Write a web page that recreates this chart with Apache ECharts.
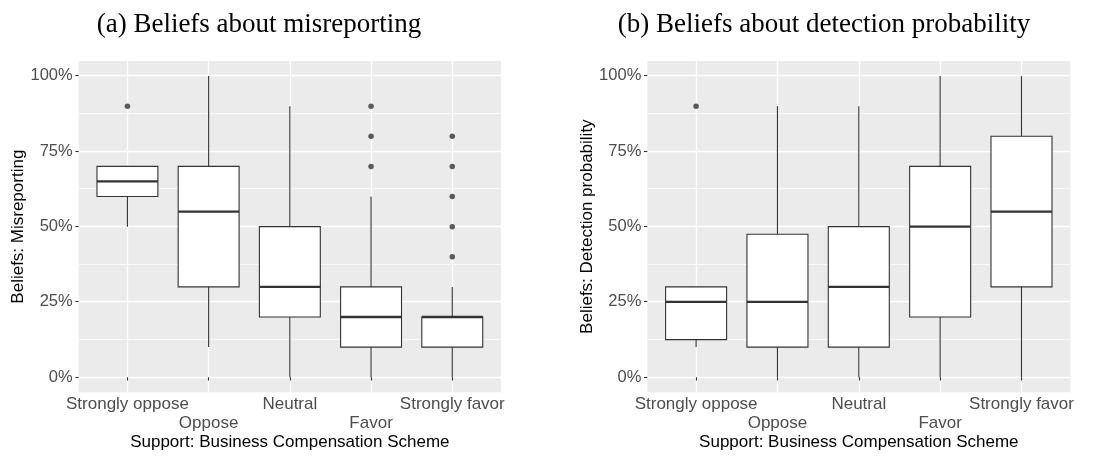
<!DOCTYPE html>
<html><head><meta charset="utf-8">
<script src="https://cdn.jsdelivr.net/npm/echarts@6/dist/echarts.min.js"></script>
<style>html,body{margin:0;padding:0;background:#fff}#c{width:1116px;height:456px}</style>
</head><body><div id="c"></div>
<script>
// ---- data ----
const categories = ['Strongly oppose', 'Oppose', 'Neutral', 'Favor', 'Strongly favor'];
const yTicks = [0, 0.25, 0.5, 0.75, 1];

// (a) Beliefs about misreporting
const misLow  = [0.50, 0.10, 0.00, 0.00, 0.00];
const misQ1   = [0.60, 0.30, 0.20, 0.10, 0.10];
const misMed  = [0.65, 0.55, 0.30, 0.20, 0.20];
const misQ3   = [0.70, 0.70, 0.50, 0.30, 0.20];
const misHigh = [0.70, 1.00, 0.90, 0.60, 0.30];
const misOutCat = [0, 3, 3, 3, 4, 4, 4, 4, 4];
const misOutVal = [0.90, 0.70, 0.80, 0.90, 0.40, 0.50, 0.60, 0.70, 0.80];

// (b) Beliefs about detection probability
const detLow  = [0.10, 0.00, 0.00, 0.00, 0.00];
const detQ1   = [0.125, 0.10, 0.10, 0.20, 0.30];
const detMed  = [0.25, 0.25, 0.30, 0.50, 0.55];
const detQ3   = [0.30, 0.475, 0.50, 0.70, 0.80];
const detHigh = [0.30, 0.90, 0.90, 1.00, 1.00];
const detOutCat = [0];
const detOutVal = [0.90];

const titles = ['(a) Beliefs about misreporting', '(b) Beliefs about detection probability'];
const yTitles = ['Beliefs: Misreporting', 'Beliefs: Detection probability'];
const xTitle = 'Support: Business Compensation Scheme';

// ---- layout (pixels) ----
const panels = [
  {L: 78.7, W: 422.3, titleX: 259, yTitleX: 18},
  {L: 647.3, W: 423.0, titleX: 824, yTitleX: 587.5}
];
const PT = 61, PB = 392.3;       // panel top/bottom
const Y0 = 377, Y1 = 75.7;       // pixel rows of 0% and 100%

const SANS = 'Liberation Sans';
const SERIF = 'Liberation Serif';

function boxData(lo, q1, md, q3, hi) {
  return categories.map((c, i) => [i, lo[i], q1[i], md[i], q3[i], hi[i]]);
}

function renderBox(params, api) {
  const c = api.value(0);
  const lo = api.coord([c, api.value(1)]);
  const q1 = api.coord([c, api.value(2)]);
  const md = api.coord([c, api.value(3)]);
  const q3 = api.coord([c, api.value(4)]);
  const hi = api.coord([c, api.value(5)]);
  const bw = api.size([1, 0])[0] * 0.75;
  const x = lo[0];
  const ls = {stroke: '#333333', lineWidth: 1.1};
  return {type: 'group', children: [
    {type: 'line', shape: {x1: x, y1: hi[1], x2: x, y2: q3[1]}, style: ls},
    {type: 'line', shape: {x1: x, y1: q1[1], x2: x, y2: lo[1]}, style: ls},
    {type: 'rect', shape: {x: x - bw / 2, y: q3[1], width: bw, height: q1[1] - q3[1]},
      style: {fill: '#ffffff', stroke: '#333333', lineWidth: 1.1}},
    {type: 'line', shape: {x1: x - bw / 2, y1: md[1], x2: x + bw / 2, y2: md[1]},
      style: {stroke: '#333333', lineWidth: 2.3}}
  ]};
}

const grid = [], xAxis = [], yAxis = [], series = [], graphic = [];
const stats = [
  {box: boxData(misLow, misQ1, misMed, misQ3, misHigh), oc: misOutCat, ov: misOutVal},
  {box: boxData(detLow, detQ1, detMed, detQ3, detHigh), oc: detOutCat, ov: detOutVal}
];

panels.forEach((p, k) => {
  const unit = p.W / 5.2;
  const iL = p.L + unit * 0.1, iW = unit * 5;
  const gA = grid.length;
  // grid A: horizontal grid + y labels
  grid.push({left: p.L, top: Y1, width: p.W, height: Y0 - Y1, containLabel: false});
  xAxis.push({gridIndex: gA, type: 'value', min: 0, max: 1, show: false});
  yAxis.push({
    gridIndex: gA, type: 'value', min: 0, max: 1, interval: 0.25,
    axisLine: {show: false},
    axisTick: {show: true, length: 3.3, lineStyle: {color: '#333333', width: 1.1}},
    axisLabel: {
      margin: 6, color: '#4D4D4D', fontFamily: SANS, fontSize: 16.5,
      formatter: v => (yTicks.indexOf(v) >= 0 ? Math.round(v * 100) + '%' : '')
    },
    splitLine: {show: true, lineStyle: {color: '#ffffff', width: 1.3}},
    minorTick: {show: false, splitNumber: 2},
    minorSplitLine: {show: true, lineStyle: {color: '#ffffff', width: 0.7}}
  });
  // grid B: categories + boxes
  const gB = grid.length;
  grid.push({left: iL, top: PT, width: iW, height: PB - PT, containLabel: false});
  xAxis.push({
    gridIndex: gB, type: 'category', data: categories, boundaryGap: true,
    axisLine: {show: false},
    axisTick: {show: true, alignWithLabel: true, length: 3.3, lineStyle: {color: '#333333', width: 1.1}},
    splitLine: {show: true, alignWithLabel: true, lineStyle: {color: '#ffffff', width: 1.3}},
    axisLabel: {
      interval: 0, margin: 2.5, color: '#4D4D4D', fontFamily: SANS, fontSize: 17, lineHeight: 19,
      formatter: (v, i) => (i % 2 === 1 ? '\n' + v : v)
    }
  });
  yAxis.push({gridIndex: gB, type: 'value', min: -0.05, max: 1.05, show: false,
    splitLine: {show: false}});
  series.push({
    type: 'custom', xAxisIndex: gB, yAxisIndex: gB, renderItem: renderBox,
    encode: {x: 0, y: [1, 2, 3, 4, 5]}, data: stats[k].box, z: 3, silent: true
  });
  series.push({
    type: 'scatter', xAxisIndex: gB, yAxisIndex: gB, symbol: 'circle', symbolSize: 5.5,
    itemStyle: {color: '#333333'}, z: 4, silent: true,
    data: stats[k].oc.map((c, i) => [c, stats[k].ov[i]])
  });
  // background
  graphic.push({type: 'rect', z: -10, silent: true,
    shape: {x: p.L, y: PT, width: p.W, height: PB - PT}, style: {fill: '#EBEBEB'}});
  // titles
  graphic.push({type: 'text', x: p.titleX, y: 25, silent: true,
    style: {text: titles[k], fontFamily: SERIF, fontSize: 27, fill: '#000000',
      align: 'center', verticalAlign: 'middle'}});
  graphic.push({type: 'text', x: p.yTitleX, y: (PT + PB) / 2, rotation: Math.PI / 2, silent: true,
    style: {text: yTitles[k], fontFamily: SANS, fontSize: 17, fill: '#000000',
      align: 'center', verticalAlign: 'middle'}});
  graphic.push({type: 'text', x: p.L + p.W / 2, y: 442, silent: true,
    style: {text: xTitle, fontFamily: SANS, fontSize: 17, fill: '#000000',
      align: 'center', verticalAlign: 'middle'}});
});

const chart = echarts.init(document.getElementById('c'), null, {renderer: 'canvas'});
chart.setOption({
  animation: false,
  backgroundColor: '#ffffff',
  grid, xAxis, yAxis, series, graphic
});
</script>
</body></html>
